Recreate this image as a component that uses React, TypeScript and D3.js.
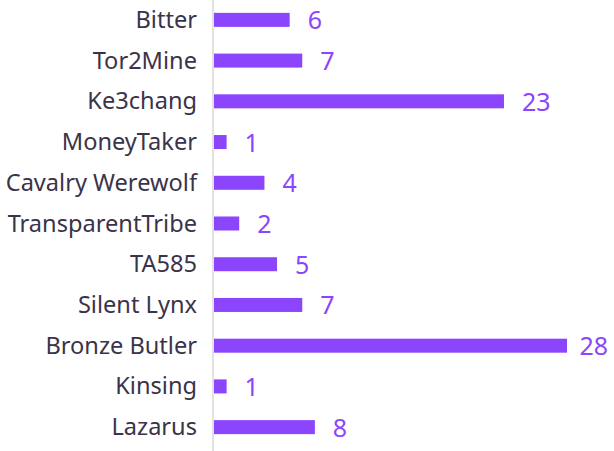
import React from "react";
import * as d3 from "d3";

const categories = ["Bitter", "Tor2Mine", "Ke3chang", "MoneyTaker", "Cavalry Werewolf", "TransparentTribe", "TA585", "Silent Lynx", "Bronze Butler", "Kinsing", "Lazarus"];
const values = [6, 7, 23, 1, 4, 2, 5, 7, 28, 1, 8];

const W = 614;
const H = 451;
const axisX = 213;

export default function App() {
  const x = d3.scaleLinear().domain([0, 28]).range([axisX + 1, 567]);
  const y = d3.scaleBand<string>().domain(categories).range([-0.5, 447.5]).padding(0);
  const barH = 14;
  const font = "'Noto Sans', sans-serif";
  return (
    <svg width={W} height={H} style={{ position: "absolute", left: 0, top: 0 }}>
      <line x1={axisX} x2={axisX} y1={0} y2={H} stroke="#d9d9d9" strokeWidth={1.5} />
      {categories.map((c, i) => {
        const cy = (y(c) as number) + y.bandwidth() / 2;
        const v = values[i];
        const estW = String(v).length * 14.3;
        const lx = Math.min(x(v) + 18, W - 6 - estW);
        return (
          <g key={c}>
            <text x={197} y={cy - 1} textAnchor="end" dominantBaseline="central" fontFamily={font} fontSize={23.6} fill="#3a3349">
              {c}
            </text>
            <rect x={x(0)} y={cy - barH / 2} width={x(v) - x(0)} height={barH} fill="#8a45fd" />
            <text x={lx} y={cy - 0.5} dominantBaseline="central" fontFamily={font} fontSize={25} fill="#8a45fd">
              {v}
            </text>
          </g>
        );
      })}
    </svg>
  );
}
